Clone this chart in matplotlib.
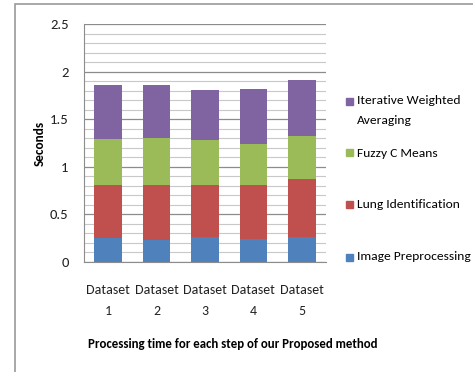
import numpy as np
import matplotlib
matplotlib.use('Agg')
import matplotlib.pyplot as plt
from matplotlib.patches import Rectangle

plt.rcParams['font.family'] = ['Carlito', 'Lato', 'DejaVu Sans']

# data
datasets = ['Dataset\n1', 'Dataset\n2', 'Dataset\n3', 'Dataset\n4', 'Dataset\n5']
image_pre = [0.25, 0.235, 0.26, 0.24, 0.265]
lung_id = [0.56, 0.575, 0.55, 0.57, 0.607]
fuzzy_c = [0.48, 0.496, 0.468, 0.433, 0.448]
iter_wavg = [0.573, 0.55, 0.525, 0.577, 0.595]

series = [image_pre, lung_id, fuzzy_c, iter_wavg]
names = ['Image Preprocessing', 'Lung Identification', 'Fuzzy C Means',
         'Iterative Weighted\nAveraging']
colors = ['#4F81BD', '#C0504D', '#9BBB59', '#8064A2']

fig = plt.figure(figsize=(4.73, 3.72), dpi=100)
fig.patch.set_facecolor('white')

# outer frame like the pasted chart box
fig.patches.append(Rectangle((15/473, -0.1), 1.2, 1 - 4/372 + 0.1,
                             transform=fig.transFigure, fill=False,
                             edgecolor='#9a9a9a', lw=1.2))

ax = fig.add_axes([84/473, 1 - 262/372, (326 - 84)/473, (262 - 24)/372])

x = np.arange(len(datasets))
bottom = np.zeros(len(datasets))
for vals, c in zip(series, colors):
    ax.bar(x, vals, width=0.57, bottom=bottom, color=c, zorder=3)
    bottom += np.array(vals)

ax.set_ylim(0, 2.5)
ax.set_xlim(-0.5, 4.5)
ax.set_yticks(np.arange(0, 2.51, 0.5))
ax.set_yticklabels(['0', '0.5', '1', '1.5', '2', '2.5'])
ax.set_yticks(np.arange(0, 2.51, 0.1), minor=True)
ax.grid(axis='y', which='major', color='#8c8c8c', lw=0.9, zorder=0)
ax.grid(axis='y', which='minor', color='#c8c8c8', lw=0.8, zorder=0)
ax.tick_params(axis='y', which='both', length=0, pad=11, labelsize=10.5, colors='#222222')
ax.set_xticks(x)
ax.set_xticklabels(datasets, linespacing=1.9)
ax.tick_params(axis='x', length=0, pad=16, labelsize=10, colors='#222222')

for s in ['top', 'right']:
    ax.spines[s].set_visible(False)
ax.spines['left'].set_color('#8c8c8c')
ax.spines['bottom'].set_color('#8c8c8c')

fig.text(40/473, 1 - 143/372, 'Seconds', rotation=90, ha='center', va='center',
         fontsize=9.5, fontweight='bold')
fig.text(233/473, 1 - 344/372, 'Processing time for each step of our Proposed method',
         ha='center', va='center', fontsize=9.3, fontweight='bold')

# legend, Excel-style spacing
leg_y = [257, 205, 153, 101]
for name, c, yy in zip(names, colors, leg_y):
    fig.patches.append(Rectangle((346/473, 1 - (yy + 3.5)/372), 7/473, 7/372,
                                 transform=fig.transFigure, color=c))
    if '\n' in name:
        fig.text(357/473, 1 - (yy - 6)/372, name, ha='left', va='top',
                 fontsize=9.7, linespacing=2.05)
    else:
        fig.text(357/473, 1 - yy/372, name, ha='left', va='center', fontsize=9.7)

fig.savefig('out.png', dpi=100)
